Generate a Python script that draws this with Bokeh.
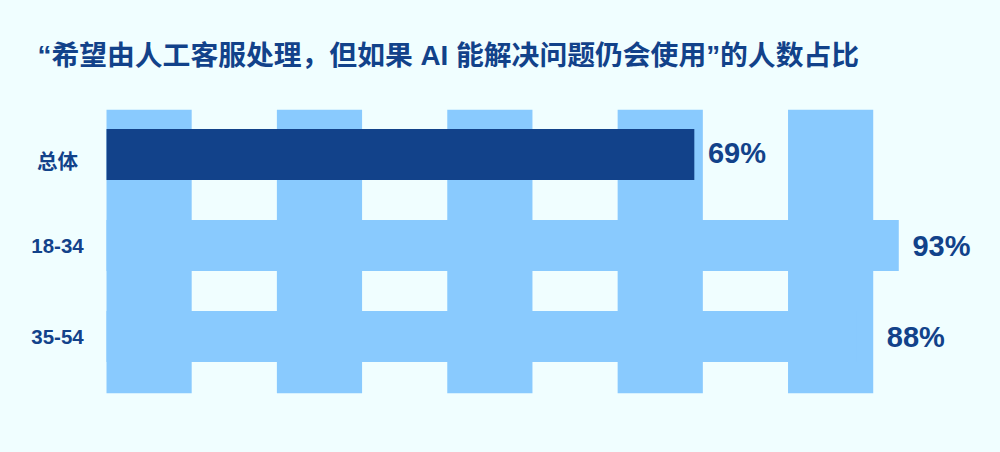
from bokeh.plotting import figure
from bokeh.models import Range1d, Label
from bokeh.core.properties import value
from bokeh.embed import file_html
from bokeh.resources import INLINE

# ---- data ----
categories = ["总体", "18-34", "35-54"]
shares = [69, 93, 88]
value_labels = ["69%", "93%", "88%"]
title_text = "“希望由人工客服处理，但如果 AI 能解决问题仍会使用”的人数占比"
column_starts = [0, 20, 40, 60, 80]
column_width = 10

# ---- style ----
BG = "#f0feff"
LIGHT = "#89cafe"
DARK = "#12428a"
INK = "#12428a"
FONT = "Liberation Sans, Noto Sans CJK SC"

p = figure(width=1000, height=452, output_backend="svg", toolbar_location=None,
           x_range=Range1d(-12.443, 104.94), y_range=Range1d(3.274, -1.693),
           x_axis_type=None, y_axis_type=None,
           min_border_left=0, min_border_right=0, min_border_top=0, min_border_bottom=0)
p.background_fill_color = BG
p.border_fill_color = BG
p.outline_line_color = None

# decorative vertical columns
p.quad(left=column_starts, right=[s + column_width for s in column_starts],
       top=-0.492, bottom=2.622, fill_color=LIGHT, line_color=None)

ys = list(range(len(categories)))
bar_colors = [DARK] + [LIGHT] * (len(categories) - 1)
p.hbar(y=ys, left=0, right=shares, height=0.56, fill_color=bar_colors, line_color=None)


# value labels start after the visible end of each bar shape:
# a light bar ending inside a light column visually extends to the column edge
def visible_end(v, colour):
    if colour == LIGHT:
        for s in column_starts:
            if s <= v <= s + column_width:
                return s + column_width
    return v


label_x = [visible_end(v, c) + 1.6 for v, c in zip(shares, bar_colors)]
p.text(x=label_x, y=ys, text=value_labels, y_offset=[-2, 0, 0],
       text_font=value(FONT), text_font_size="29px", text_font_style="bold",
       text_color=INK, text_baseline="middle", text_align="left")

p.text(x=-5.75, y=ys, text=categories, y_offset=[7, 0, 0],
       text_font=value(FONT), text_font_size="20.5px", text_font_style="bold",
       text_color=INK, text_baseline="middle", text_align="center")

p.add_layout(Label(x=37, y=397, x_units="screen", y_units="screen", text=title_text,
                   text_font=FONT, text_font_size="27.8px", text_font_style="bold",
                   text_color=INK, text_baseline="middle"))

template = """{% block postamble %}<style>html, body { background: #f0feff; }</style>{% endblock %}"""
html = file_html(p, INLINE, title="chart", template=template)
open("out.html", "w").write(html)
